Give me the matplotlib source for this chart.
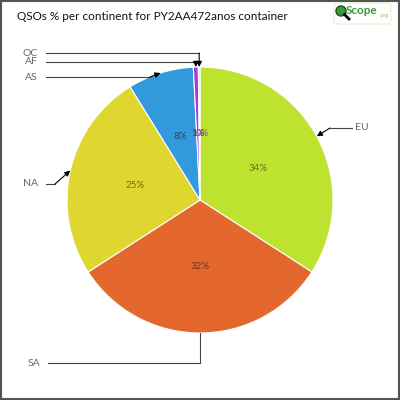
import numpy as np
import matplotlib.pyplot as plt
import matplotlib.colors as mc
from matplotlib.patches import Rectangle, Circle, FancyBboxPatch

continents = ["EU", "SA", "NA", "AS", "AF", "OC"]
shares = [34.1, 31.8, 25.3, 8.0, 0.6, 0.2]
colors = ["#bde22f", "#e4682e", "#e0d630", "#3399dd", "#aa3cdc", "#f0c8ec"]
pct_labels = ["%d%%" % round(v) for v in shares]

plt.rcParams['font.family'] = ['Lato', 'DejaVu Sans']

fig = plt.figure(figsize=(4, 4), dpi=100)
ax = fig.add_axes([0, 0, 1, 1])

# pixel coords -> data (y up)
def px(x, y):
    return (x, 400 - y)

cx, cy = px(200, 200)
R = 133
wedges, _ = ax.pie(shares, colors=colors, startangle=90, counterclock=False,
                   radius=R, center=(cx, cy), frame=True,
                   wedgeprops=dict(edgecolor='white', linewidth=0.8))
ax.set_xlim(0, 400)
ax.set_ylim(0, 400)
ax.set_aspect('equal')
ax.axis('off')

def darker(c, f=0.5):
    r, g, b = mc.to_rgb(c)
    return (r * f, g * f, b * f)

# percent labels inside
for i, (w, lab, col) in enumerate(zip(wedges, pct_labels, colors)):
    a = np.deg2rad((w.theta1 + w.theta2) / 2)
    x = cx + 0.5 * R * np.cos(a)
    y = cy + 0.5 * R * np.sin(a)
    if continents[i] == "OC":
        x += 3
    ax.text(x, y, lab, ha='center', va='center', fontsize=7, color=darker(col))

# outside labels with leader lines
label_pos = {"EU": (355, 128), "SA": (40, 363), "NA": (38, 184),
             "AS": (38, 77), "AF": (38, 62), "OC": (38, 53)}
knee = {"EU": (330, 128), "SA": None, "NA": (55, 184),
        "AS": (150, 77), "AF": None, "OC": None}
lc = "#444444"
for w, name in zip(wedges, continents):
    a = np.deg2rad((w.theta1 + w.theta2) / 2)
    tip = (cx + R * np.cos(a), cy + R * np.sin(a))
    tx, ty = px(*label_pos[name])
    ha = 'left' if name == "EU" else 'right'
    ax.text(tx, ty, name, ha=ha, va='center', fontsize=7.5, color='#666666')
    start = (tx - 3, ty) if name == "EU" else (tx + 8, ty)
    if name == "SA":
        k = (tip[0], ty)
        ax.plot([start[0], k[0], tip[0]], [start[1], k[1], tip[1]], color=lc, lw=0.8)
        continue
    if knee[name] is None:
        k = (tip[0], ty)
    else:
        k = px(*knee[name])
    ax.plot([start[0], k[0]], [start[1], k[1]], color=lc, lw=0.8)
    ax.annotate("", xy=tip, xytext=k,
                arrowprops=dict(arrowstyle='-|>', color='black', lw=0.8,
                                mutation_scale=8, shrinkA=0, shrinkB=0))

# title
fig.text(17 / 400, 1 - 17 / 400, "QSOs % per continent for PY2AA472anos container",
         ha='left', va='center', fontsize=8.5, color='#111111')

# logo
ax.add_patch(FancyBboxPatch((334, 400 - 24), 57, 21, boxstyle="round,pad=0,rounding_size=3",
                            facecolor='white', edgecolor='#e4efd0', lw=0.8))
ax.add_patch(Circle(px(341, 11), 5, facecolor='#3a9a3a', edgecolor='#1d4e1d', lw=1))
ax.plot([344.5, 349], [400 - 14.5, 400 - 19], color='black', lw=2)
ax.text(346, 400 - 11, "Scope", ha='left', va='center', fontsize=8.5,
        color='#3a9a3a', fontweight='bold')
ax.text(379.5, 400 - 15, ".org", ha='left', va='center', fontsize=4, color='#8abf5a')

# frame
fig.patches.append(Rectangle((0.002, 0.002), 0.996, 0.996, transform=fig.transFigure,
                             fill=False, edgecolor='#555555', lw=1.5))

fig.savefig("out.png", dpi=100)
